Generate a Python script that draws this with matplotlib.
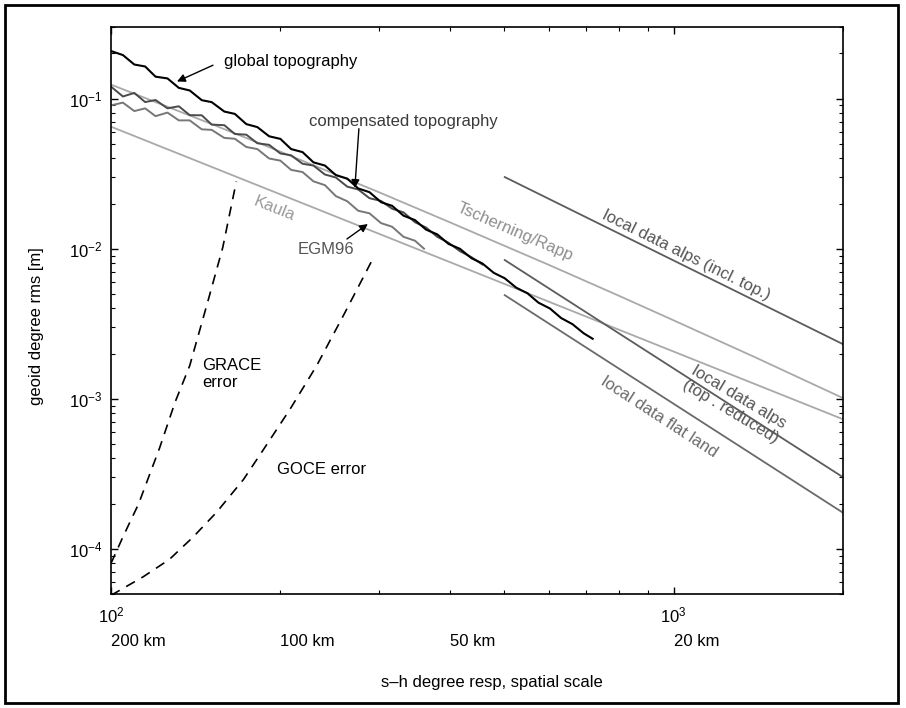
import matplotlib
matplotlib.use('Agg')
import matplotlib.pyplot as plt
import matplotlib.transforms as mtransforms
from matplotlib.ticker import NullFormatter
from matplotlib.patches import Rectangle

plt.rcParams['font.family'] = ['Liberation Sans', 'DejaVu Sans']
plt.rcParams['mathtext.default'] = 'regular'
plt.rcParams['font.size'] = 12

# spherical harmonic degree grid of the noisy curves
deg = [100, 105, 110, 115, 120, 126, 132, 138, 145, 151, 159, 166, 174, 182, 191,
       200, 209, 219, 229, 240, 251, 263, 275, 288, 302, 316, 331, 347, 363, 380,
       398, 417, 437, 457, 479, 501, 525, 550, 575, 603, 631, 661, 692, 718]

global_topo = [0.2075, 0.195, 0.1687, 0.1637, 0.140, 0.1363, 0.1179, 0.1133, 0.0976,
               0.0947, 0.0820, 0.0791, 0.0676, 0.0646, 0.0561, 0.0539, 0.0461, 0.0440,
               0.0376, 0.0358, 0.0309, 0.0293, 0.0252, 0.0238, 0.0204, 0.0193, 0.0166,
               0.0155, 0.0134, 0.01246, 0.01076, 0.00998, 0.00865, 0.00798, 0.0069,
               0.00635, 0.0055, 0.00504, 0.00437, 0.00399, 0.00345, 0.00314, 0.00273,
               0.00251]

comp_topo = [0.1202, 0.1033, 0.1091, 0.0948, 0.0979, 0.0861, 0.0889, 0.0776, 0.0774,
             0.0671, 0.0665, 0.0581, 0.0575, 0.0504, 0.0492, 0.0431, 0.0419, 0.0368,
             0.0358, 0.0312, 0.0298, 0.0259, 0.0248, 0.0217, 0.0208, 0.01845, 0.01746,
             0.0150, 0.01384, 0.0120, 0.01096, 0.00962, 0.00879, 0.00785]

egm96_deg = deg[:28] + [360]
egm96 = [0.0902, 0.0940, 0.0826, 0.0861, 0.0764, 0.0807, 0.0716, 0.0716, 0.0624,
         0.0619, 0.0547, 0.0540, 0.0476, 0.0461, 0.0399, 0.0386, 0.0335, 0.0324,
         0.0281, 0.0265, 0.0224, 0.0207, 0.0179, 0.0172, 0.0148, 0.0140, 0.0120,
         0.0113, 0.0100]

tr_deg = [100, 150, 200, 300, 400, 600, 800, 1000, 1400, 2000]
tr_val = [0.124, 0.0683, 0.0443, 0.0237, 0.0150, 0.0078, 0.00485, 0.00333, 0.00188, 0.00101]

kaula_deg = [100, 2000]
kaula_val = [0.065, 0.00073]

grace_deg = [100, 105, 112, 122, 130, 138, 149, 158, 167]
grace_err = [8e-5, 1.2e-4, 2.0e-4, 4.7e-4, 9.5e-4, 0.00166, 0.0046, 0.0102, 0.028]

goce_deg = [100, 114, 127, 140, 154, 172, 186, 208, 232, 259, 278, 294]
goce_err = [4.9e-5, 6.5e-5, 8.5e-5, 1.2e-4, 1.75e-4, 2.9e-4, 4.5e-4, 8.5e-4,
            0.00166, 0.0036, 0.006, 0.009]

local_deg = [501, 2000]
alps_incl = [0.030, 0.00231]
alps_red = [0.0084, 0.0003]
flat_land = [0.0049, 0.000174]

km_deg = [100, 200, 400, 1000]
km_labels = ['200 km', '100 km', '50 km', '20 km']

fig = plt.figure(figsize=(9.06, 7.08), dpi=100)
ax = fig.add_axes([111/906, 1-594/708, 732/906, 567/708])

light = '#a9a9a9'
dark = '#5c5c5c'

ax.plot(tr_deg, tr_val, color=light, lw=1.3)
ax.plot(kaula_deg, kaula_val, color=light, lw=1.3)
ax.plot(local_deg, alps_incl, color=dark, lw=1.3)
ax.plot(local_deg, alps_red, color=dark, lw=1.3)
ax.plot(local_deg, flat_land, color='#6a6a6a', lw=1.3)
ax.plot(egm96_deg, egm96, color='#777777', lw=1.4)
ax.plot(deg[:len(comp_topo)], comp_topo, color='#4a4a4a', lw=1.4)
ax.plot(deg, global_topo, color='black', lw=1.5)
ax.plot(grace_deg, grace_err, color='black', lw=1.2, dashes=(6, 4.5))
ax.plot(goce_deg, goce_err, color='black', lw=1.2, dashes=(6, 4.5))

ax.set_xscale('log')
ax.set_yscale('log')
ax.set_xlim(100, 2000)
ax.set_ylim(5e-5, 0.3)

ax.tick_params(which='both', direction='in', top=True, right=True)
ax.tick_params(which='major', length=5, width=1)
ax.tick_params(which='minor', length=3, width=0.8)
ax.tick_params(axis='x', which='major', pad=8)
ax.tick_params(axis='y', which='major', pad=6)
ax.xaxis.set_minor_formatter(NullFormatter())
ax.yaxis.set_minor_formatter(NullFormatter())
for s in ax.spines.values():
    s.set_linewidth(1.2)

trans = mtransforms.blended_transform_factory(ax.transData, ax.transAxes)
for d, lab in zip(km_deg, km_labels):
    ax.text(d, -0.083, lab, transform=trans, ha='left', va='center')

ax.set_xlabel('s\u2013h degree resp, spatial scale')
ax.xaxis.set_label_coords(0.52, -0.143)
ax.set_ylabel('geoid degree rms [m]')
ax.yaxis.set_label_coords(-0.0915, 0.473)

arrow = dict(arrowstyle='-|>', color='black', lw=1, mutation_scale=12, shrinkA=0, shrinkB=0)

ax.text(158.7, 0.1767, 'global topography', ha='left', va='center')
ax.annotate('', xy=(131, 0.13), xytext=(151.8, 0.1669), arrowprops=arrow)

ax.text(224.7, 0.0702, 'compensated topography', ha='left', va='center', color='#3a3a3a')
ax.annotate('', xy=(271.3, 0.0254), xytext=(275.8, 0.063), arrowprops=arrow)

ax.text(214.8, 0.0098, 'EGM96', ha='left', va='center', color='#555555')
ax.annotate('', xy=(286.1, 0.0146), xytext=(262.6, 0.0116), arrowprops=arrow)

ax.text(194.8, 0.0184, 'Kaula', ha='center', va='center', color='#9a9a9a',
        rotation=-21.7, rotation_mode='anchor')
ax.text(523, 0.01293, 'Tscherning/Rapp', ha='center', va='center', color='#8e8e8e',
        rotation=-23.4, rotation_mode='anchor')
ax.text(1052, 0.00908, 'local data alps (incl. top.)', ha='center', va='center',
        color='#555555', rotation=-26.3, rotation_mode='anchor')
ax.text(1283, 0.000918, 'local data alps\n(top . reduced)', ha='center', va='center',
        color='#555555', rotation=-31, rotation_mode='anchor', multialignment='center')
ax.text(944, 0.000751, 'local data flat land', ha='center', va='center',
        color='#6a6a6a', rotation=-33, rotation_mode='anchor')

ax.text(145, 0.001456, 'GRACE\nerror', ha='left', va='center')
ax.text(197.1, 3.376e-4, 'GOCE error', ha='left', va='center')

fig.patches.append(Rectangle((5/906, 5/708), 893/906, 698/708, transform=fig.transFigure,
                             fill=False, lw=2, ec='black'))

fig.savefig('out.png', dpi=100)
